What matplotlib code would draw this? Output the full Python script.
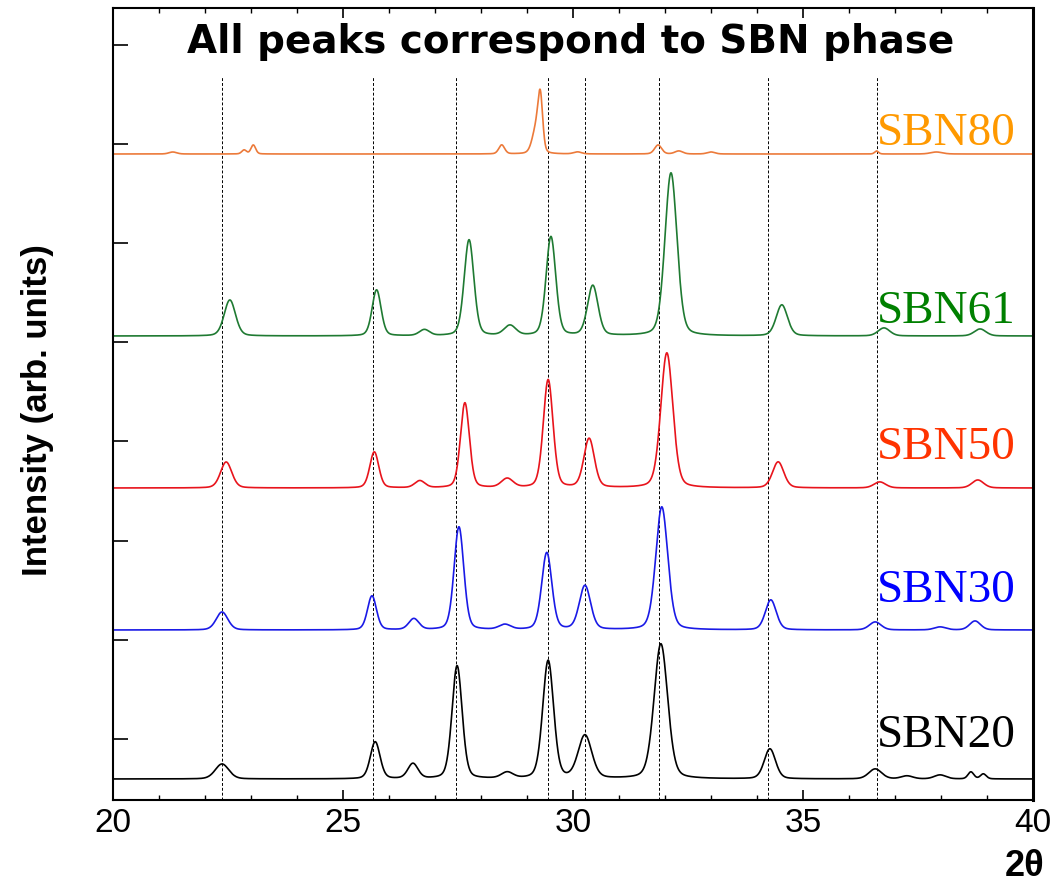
import numpy as np
import matplotlib
matplotlib.use('Agg')
import matplotlib.pyplot as plt
from matplotlib.ticker import MultipleLocator

# peak lists: position (2theta), height (arb.), FWHM (deg)
sbn20_pos = [22.37, 25.70, 26.52, 27.48, 28.57, 29.46, 30.26, 31.91, 34.28, 36.57, 37.26, 37.98, 38.65, 38.92]
sbn20_h = [15, 37, 15, 113, 6, 118, 43, 135, 30, 10, 3, 4, 7, 5]
sbn20_w = [0.35, 0.25, 0.26, 0.26, 0.3, 0.28, 0.35, 0.35, 0.29, 0.33, 0.3, 0.3, 0.15, 0.15]

sbn30_pos = [22.37, 25.63, 26.54, 27.52, 28.52, 29.43, 30.26, 31.93, 34.30, 36.57, 37.98, 38.74]
sbn30_h = [18, 34, 11, 103, 5, 77, 44, 123, 30, 8, 3, 9]
sbn30_w = [0.3, 0.23, 0.26, 0.25, 0.3, 0.26, 0.29, 0.31, 0.28, 0.3, 0.3, 0.28]

sbn50_pos = [22.46, 25.68, 26.67, 27.65, 28.57, 29.46, 30.35, 32.04, 34.46, 36.67, 38.80]
sbn50_h = [26, 36, 7, 85, 9, 108, 49, 135, 26, 6, 8]
sbn50_w = [0.29, 0.23, 0.26, 0.23, 0.3, 0.25, 0.27, 0.31, 0.29, 0.3, 0.3]

sbn61_pos = [22.54, 25.73, 26.77, 27.74, 28.63, 29.52, 30.43, 32.13, 34.54, 36.76, 38.85]
sbn61_h = [36, 46, 6, 96, 10, 99, 50, 163, 31, 8, 7]
sbn61_w = [0.29, 0.23, 0.26, 0.25, 0.3, 0.25, 0.27, 0.31, 0.29, 0.3, 0.3]

sbn80_pos = [21.3, 22.85, 23.05, 28.45, 29.20, 29.29, 30.1, 31.85, 32.3, 33.0, 36.6, 37.9]
sbn80_h = [2, 4, 9, 9, 25, 50, 2, 9, 3, 2, 3, 2]
sbn80_w = [0.2, 0.12, 0.12, 0.15, 0.2, 0.12, 0.2, 0.18, 0.2, 0.2, 0.1, 0.3]

names = ['SBN20', 'SBN30', 'SBN50', 'SBN61', 'SBN80']
offsets = [21, 170, 312, 464, 646]
line_colors = ['#000000', '#1a1ae6', '#e8141c', '#1f7a32', '#ec7a3a']
text_colors = ['#000000', '#0000ff', '#ff3300', '#008000', '#ff9900']
label_y = [53, 198, 341, 477, 655]   # bottom of label text, data units

ref_lines = [22.37, 25.65, 27.46, 29.46, 30.26, 31.87, 34.24, 36.61]


def pattern(x, pos, h, w, eta=0.25):
    y = np.zeros_like(x)
    for p, a, f in zip(pos, h, w):
        d = (x - p) / f
        y += a * (eta / (1 + 4 * d ** 2) + (1 - eta) * np.exp(-4 * np.log(2) * d ** 2))
    return y


two_theta = np.linspace(20, 40, 4001)
peaks = [(sbn20_pos, sbn20_h, sbn20_w), (sbn30_pos, sbn30_h, sbn30_w),
         (sbn50_pos, sbn50_h, sbn50_w), (sbn61_pos, sbn61_h, sbn61_w),
         (sbn80_pos, sbn80_h, sbn80_w)]

fig = plt.figure(figsize=(10.64, 8.88), dpi=100)
ax = fig.add_axes([113 / 1064, 88 / 888, 920 / 1064, 792 / 888])

ax.vlines(ref_lines, 0, 724, colors='black', linestyles=(0, (3, 2)), linewidth=0.7)

for (pos, h, w), off, lc, tc, name, ly in zip(peaks, offsets, line_colors, text_colors, names, label_y):
    ax.plot(two_theta, off + pattern(two_theta, pos, h, w), color=lc, linewidth=1.2)
    ax.text(36.6, ly, name, color=tc, fontsize=34, family='Liberation Serif',
            ha='left', va='baseline')

ax.set_xlim(20, 40)
ax.set_ylim(0, 792)
ax.xaxis.set_major_locator(MultipleLocator(5))
ax.xaxis.set_minor_locator(MultipleLocator(1))
ax.set_yticks(61 + 99.2 * np.arange(8))
ax.set_yticklabels([])
ax.tick_params(axis='x', which='major', direction='in', top=True, length=7, width=1.2,
               labelsize=24, pad=6)
ax.tick_params(axis='x', which='minor', direction='in', top=True, length=3.5, width=1)
ax.tick_params(axis='y', which='major', direction='in', length=11, width=1.2, right=False)
for lab in ax.get_xticklabels():
    lab.set_family('Liberation Sans')
for s in ax.spines.values():
    s.set_linewidth(1.5)
ax.spines['right'].set_linewidth(2.2)

ax.text(0.497, 0.943, 'All peaks correspond to SBN phase', transform=ax.transAxes,
        ha='center', va='baseline', fontsize=28, fontweight='bold', family='DejaVu Sans')

fig.text(1025 / 1064, 1 - 866 / 888, '2θ', ha='center', va='center', fontsize=26,
         fontweight='bold', family='Liberation Sans')
fig.text(38 / 1064, 1 - 410 / 888, 'Intensity (arb. units)', rotation=90,
         ha='center', va='center', fontsize=25, fontweight='bold',
         family=['Liberation Sans Narrow', 'Liberation Sans'])

fig.savefig('out.png', dpi=100)
